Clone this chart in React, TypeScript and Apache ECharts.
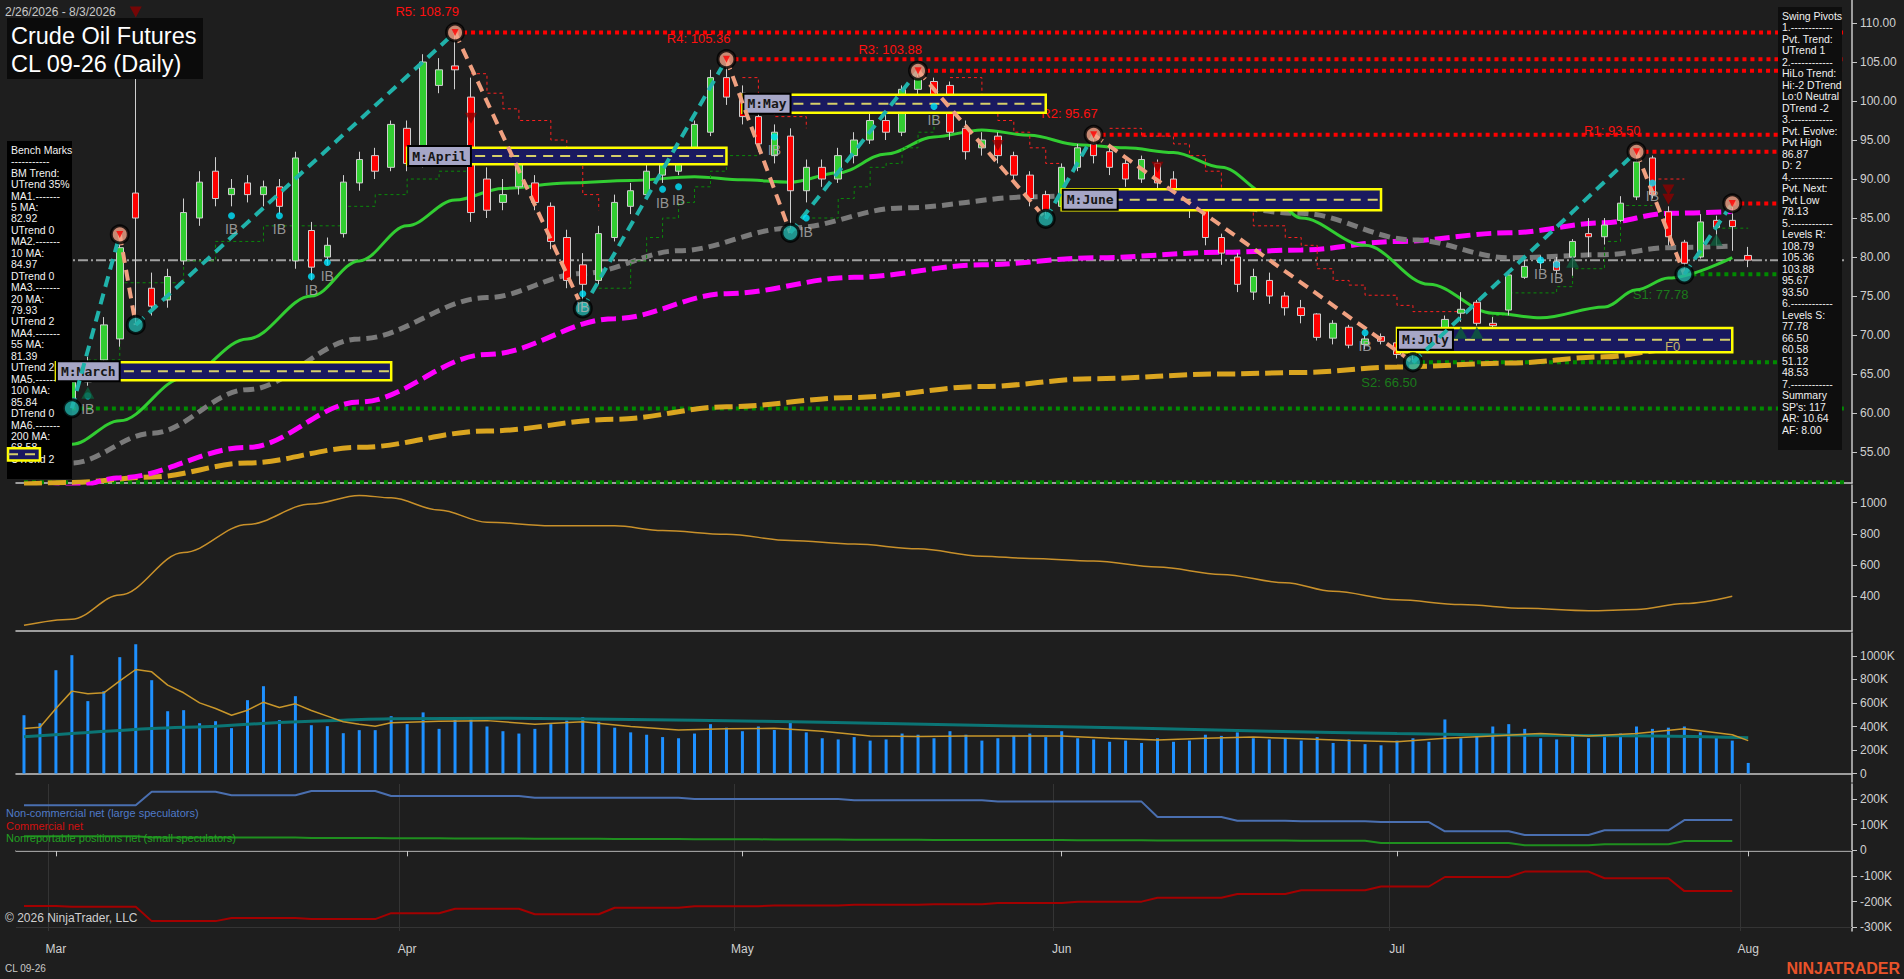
import React, { useEffect, useRef } from "react";
import * as echarts from "echarts";

const W = 1904;
const H = 979;
const FF = "'Liberation Sans', Arial, sans-serif";
const N_CAT = 115;
const categories = Array.from({ length: N_CAT }, (_, i) => String(i));
const monthTickIdx = [2, 24, 45, 65, 86, 108];
const monthTickLabel = ["Mar", "Apr", "May", "Jun", "Jul", "Aug"];
const priceTicks = [55, 60, 65, 70, 75, 80, 85, 90, 95, 100, 105, 110];
const oscTicks = [400, 600, 800, 1000];
const volTicks = [0, 200000, 400000, 600000, 800000, 1000000];
const cotTicks = [-300000, -200000, -100000, 0, 100000, 200000];

// [open, close, low, high]
const ohlc = [
  [64.0, 63.2, 62.0, 65.5], [63.2, 62.5, 61.5, 64.3], [62.5, 61.8, 61.0, 63.5], [61.8, 64.0, 60.6, 64.8],
  [64.0, 66.5, 63.5, 67.2], [66.8, 71.3, 65.8, 72.3], [69.5, 81.2, 68.5, 82.9], [88.2, 85.0, 71.3, 110.5],
  [76.0, 73.7, 72.5, 78.0], [74.5, 77.5, 73.5, 78.5], [79.5, 85.7, 79.0, 87.5], [85.0, 89.6, 84.0, 91.0],
  [91.0, 87.5, 86.5, 92.8], [88.0, 88.8, 86.5, 90.0], [89.5, 88.0, 87.0, 90.5], [88.0, 89.0, 86.5, 89.8],
  [89.0, 86.5, 85.5, 90.0], [79.5, 92.7, 78.5, 93.5], [83.4, 78.7, 77.0, 84.5], [80.0, 81.5, 79.0, 82.5],
  [83.0, 89.6, 82.5, 90.5], [89.5, 92.5, 88.5, 93.5], [93.0, 91.0, 90.0, 94.0], [91.5, 97.0, 91.0, 97.5],
  [96.5, 92.0, 91.0, 97.5], [92.0, 105.0, 91.5, 106.0], [102.0, 104.0, 101.0, 105.5], [104.5, 104.0, 101.5, 108.79],
  [100.5, 85.7, 84.5, 103.0], [90.0, 86.0, 85.0, 91.5], [87.0, 88.0, 86.0, 90.0], [89.0, 92.0, 88.0, 93.0],
  [89.5, 87.0, 86.0, 90.5], [86.5, 82.0, 81.0, 87.0], [82.5, 77.0, 76.0, 83.5], [79.0, 76.5, 73.4, 80.5],
  [77.0, 83.0, 76.5, 84.0], [82.5, 87.0, 82.0, 88.0], [86.5, 88.5, 85.5, 89.5], [88.0, 91.0, 87.5, 92.0],
  [90.5, 92.0, 89.5, 93.0], [91.0, 93.5, 90.5, 94.0], [93.0, 97.0, 92.5, 97.5], [96.0, 103.0, 95.5, 104.0],
  [103.0, 100.5, 99.5, 105.36], [101.0, 98.0, 97.0, 102.0], [98.0, 94.5, 93.5, 99.0], [93.0, 96.0, 92.0, 97.0],
  [95.5, 88.5, 83.1, 96.5], [88.5, 91.5, 87.0, 92.5], [91.5, 90.0, 89.0, 92.5], [90.0, 93.0, 89.5, 94.0],
  [93.0, 95.0, 92.0, 96.0], [95.0, 97.5, 94.5, 98.5], [97.5, 96.0, 95.0, 98.5], [96.0, 101.5, 95.5, 102.0],
  [101.5, 103.0, 100.5, 103.88], [102.5, 100.5, 99.5, 103.0], [102.0, 96.0, 95.0, 102.5], [96.5, 93.5, 92.5, 97.5],
  [94.0, 95.0, 93.0, 96.0], [95.5, 93.0, 92.0, 96.0], [93.0, 90.5, 89.5, 93.5], [90.5, 87.5, 86.5, 91.0],
  [88.0, 86.0, 84.9, 88.5], [86.5, 91.5, 86.0, 92.0], [91.5, 94.0, 91.0, 94.5], [94.5, 93.0, 92.0, 95.67],
  [93.5, 91.5, 90.5, 94.5], [92.0, 90.0, 89.0, 92.5], [90.0, 92.5, 89.5, 93.0], [92.0, 89.5, 88.5, 92.5],
  [90.0, 88.0, 87.0, 91.0], [88.0, 86.0, 85.0, 88.5], [86.0, 82.5, 81.5, 87.0], [82.5, 80.5, 79.0, 83.0],
  [80.0, 76.5, 75.5, 80.5], [75.5, 77.5, 74.5, 78.5], [77.0, 75.0, 74.0, 78.0], [75.0, 73.5, 72.5, 75.5],
  [73.5, 72.5, 71.5, 74.5], [72.7, 69.7, 69.3, 72.8], [69.6, 71.5, 68.8, 71.9], [71.0, 68.7, 68.3, 71.3],
  [68.8, 69.5, 68.2, 70.0], [69.8, 69.2, 68.8, 70.2], [69.0, 67.5, 67.0, 69.5], [67.5, 68.5, 66.5, 69.0],
  [68.5, 70.0, 68.0, 70.5], [70.0, 72.0, 69.5, 72.5], [72.8, 73.3, 71.7, 75.5], [74.2, 71.5, 71.2, 74.5],
  [71.5, 71.2, 70.6, 72.3], [73.2, 77.7, 72.5, 78.0], [77.4, 78.8, 77.2, 80.0], [79.3, 79.6, 78.5, 80.2],
  [79.4, 78.3, 77.8, 80.0], [80.0, 82.0, 77.6, 82.3], [83.0, 82.6, 80.0, 85.0], [82.6, 84.1, 81.6, 85.0],
  [84.7, 86.9, 84.5, 87.8], [87.7, 92.2, 87.3, 93.5], [92.7, 88.0, 87.5, 93.0], [85.8, 82.6, 81.5, 86.5],
  [81.9, 79.2, 77.78, 82.2], [80.0, 84.5, 79.8, 85.5], [84.7, 83.8, 81.5, 85.3], [84.7, 83.9, 80.8, 86.87],
  [80.2, 79.6, 78.7, 81.3],
];

// volume in thousands
const volumeK = [
  496, 428, 879, 1007, 616, 700, 990, 1100, 794, 530, 539, 428, 445, 386, 624, 743, 454, 658, 411, 403, 343, 369, 369, 488,
  420, 520, 380, 460, 470, 400, 360, 340, 380, 420,
  450, 480, 440, 390, 350, 330, 310, 300, 340, 420,
  390, 360, 400, 370, 430, 350, 300, 290, 310, 280,
  290, 340, 330, 300, 360, 330, 280, 300, 320, 340,
  310, 360, 300, 290, 270, 280, 260, 300, 270, 280,
  330, 320, 350, 300, 290, 300, 280, 310, 260, 290,
  250, 240, 280, 300, 270, 460, 300, 330, 400, 420,
  380, 300, 290, 330, 300, 310, 340, 400, 380, 390,
  400, 350, 310, 280, 90,
];
const volAvgFastK = [
  [0, 383], [1, 394], [2, 553], [3, 701], [4, 678], [5, 687], [6, 789], [7, 885], [8, 865], [9, 752], [10, 687], [11, 601],
  [12, 553], [13, 496], [14, 539], [15, 607], [16, 562], [17, 593], [18, 536], [19, 488], [20, 440], [21, 420], [22, 403], [23, 431],
  [26, 445], [29, 450], [32, 420], [35, 440], [38, 400], [41, 370], [44, 380], [47, 385], [50, 360], [53, 320], [56, 315],
  [59, 320], [62, 320], [65, 320], [68, 300], [71, 285], [74, 300], [77, 310], [80, 295], [83, 280], [86, 270], [89, 300],
  [92, 320], [95, 340], [98, 320], [101, 340], [104, 380], [107, 330], [108, 280],
];
const volAvgSlowK = [
  [0, 312], [3, 340], [8, 383], [12, 403], [16, 434], [20, 454], [23, 465], [30, 470], [38, 460], [46, 445], [54, 425],
  [62, 405], [70, 385], [78, 360], [86, 340], [94, 325], [102, 320], [108, 305],
];

// oscillator panel (orange line)
const oscLine = [
  [0, 213], [3, 252], [6, 408], [10, 681], [14, 860], [18, 992], [21, 1047], [23, 1031], [26, 953], [29, 875], [33, 852],
  [37, 852], [40, 821], [44, 797], [48, 758], [52, 735], [56, 704], [60, 657], [63, 642], [67, 626], [71, 587], [75, 540],
  [79, 486], [82, 431], [86, 377], [90, 346], [94, 322], [98, 307], [101, 314], [104, 353], [107, 400],
];

// moving averages
const ma20 = [
  [0, 55.2], [3, 56.0], [6, 59.0], [10, 64.5], [14, 69.5], [18, 75.0], [21, 79.5], [24, 84.0], [27, 87.3], [30, 88.8],
  [34, 89.5], [38, 89.8], [42, 90.3], [45, 89.9], [48, 89.6], [51, 90.8], [54, 93.2], [57, 95.4], [60, 96.3], [63, 95.6],
  [66, 94.4], [69, 94.0], [72, 93.4], [75, 91.5], [78, 88.0], [80, 85.0], [84, 81.5], [88, 76.5], [92, 72.8], [95, 72.2],
  [99, 73.6], [101, 75.8], [103, 77.3], [107, 79.93],
];
const ma55 = [
  [0, 52.2], [3, 53.6], [8, 57.4], [14, 63.0], [21, 69.5], [29, 74.8], [35, 77.9], [41, 80.8], [48, 83.7], [55, 86.3],
  [63, 87.7], [67, 88.0], [72, 87.3], [80, 85.6], [87, 82.2], [93, 79.9], [99, 80.3], [103, 81.2], [107, 81.39],
];
const ma100 = [
  [0, 49.8], [3, 50.5], [6, 51.7], [14, 55.6], [21, 61.4], [29, 67.5], [37, 72.1], [44, 75.3], [52, 77.4], [60, 79.0],
  [67, 79.9], [75, 80.6], [80, 80.9], [86, 82.0], [93, 83.1], [99, 84.4], [103, 85.6], [107, 85.84],
];
const ma200 = [
  [0, 50.9], [3, 51.1], [8, 51.8], [14, 53.6], [21, 55.6], [29, 57.7], [37, 59.2], [44, 60.8], [52, 62.0], [60, 63.4],
  [67, 64.4], [75, 65.0], [80, 65.2], [86, 65.9], [93, 66.4], [99, 67.2], [103, 68.1], [107, 68.58],
];

// swing pivots
const pivotIdx = [3, 6, 7, 27, 35, 44, 48, 56, 64, 67, 87, 101, 104, 107];
const pivotPrice = [60.6, 82.9, 71.3, 108.79, 73.4, 105.36, 83.1, 103.88, 84.9, 95.67, 66.5, 93.5, 77.78, 86.87];
const pivotKind = ["L", "H", "L", "H", "L", "H", "L", "H", "L", "H", "L", "H", "L", "H"];

// horizontal levels
const levelFrom = [27, 44, 56, 67, 101, 107, 104, 87, 3, 0, 0];
const levelTo = [114, 114, 114, 114, 114, 110, 114, 114, 114, 114, 114];
const levelValue = [108.79, 105.36, 103.88, 95.67, 93.5, 86.87, 77.78, 66.5, 60.58, 51.12, 79.6];
const levelKind = ["R", "R", "R", "R", "R", "R", "S", "S", "S", "S", "C"];
const levelLabel = ["R5: 108.79", "R4: 105.36", "R3: 103.88", "R2: 95.67", "R1: 93.50", "", "S1: 77.78", "S2: 66.50", "", "", ""];

// monthly range boxes
const boxStart = [-1, 2, 24, 45, 65, 86];
const boxEnd = [1, 23, 44, 64, 85, 107];
const boxTop = [55.5, 66.5, 94.0, 100.8, 88.7, 70.9];
const boxBottom = [53.9, 64.2, 91.9, 98.5, 86.0, 67.8];
const boxMid = [54.7, 65.35, 92.95, 99.65, 87.35, 69.4];
const boxLabel = ["", "M:March", "M:April", "M:May", "M:June", "M:July"];

// trailing step lines
const redTrail = [
  [[28, 103.5], [29, 101.0], [30, 99.0], [31, 97.5], [33, 95.0], [34, 92.0], [35, 88.0], [36, 86.0]],
  [[45, 103.0], [46, 100.5], [47, 98.0], [49, 96.5]],
  [[58, 103.0], [60, 99.0], [61, 97.5], [62, 96.0], [63, 94.0], [64, 92.0], [65, 92.0]],
  [[68, 96.5], [70, 95.5], [72, 94.5], [73, 93.0], [74, 91.0], [75, 88.5], [76, 86.0], [77, 84.0], [79, 82.5], [80, 81.5],
   [81, 78.5], [82, 77.0], [83, 76.4], [84, 75.1], [86, 73.8], [87, 73.0], [90, 73.0]],
  [[102, 90.0], [104, 90.0]],
];
const greenTrail = [
  [[4, 66.8], [6, 76.7], [8, 76.7], [10, 79.5], [12, 82.0], [15, 84.0], [17, 84.0], [20, 86.5], [22, 88.0], [24, 90.0], [26, 91.0], [28, 91.0]],
  [[36, 76.0], [37, 76.0], [38, 79.5], [39, 82.5], [40, 85.0], [41, 87.0], [42, 89.0], [43, 91.0], [44, 93.0], [46, 93.0]],
  [[49, 85.0], [51, 87.5], [52, 89.0], [53, 91.5], [54, 92.0], [55, 94.0], [56, 96.0], [57, 99.0], [59, 99.0]],
  [[90, 70.1], [92, 72.5], [93, 75.4], [96, 76.2], [97, 78.5], [99, 82.0], [100, 86.6], [102, 86.6]],
  [[106, 83.7], [108, 83.7]],
];

// inside-bar markers and signal triangles
const ibIdx = [4, 13, 16, 18, 19, 35, 40, 41, 47, 49, 57, 84, 95, 96, 102];
const ibDot = [62.2, 85.3, 85.3, 77.5, 79.3, 75.3, 88.7, 89.0, 95.4, 85.0, 99.3, 70.3, 79.6, 79.0, 89.5];
const downTriIdx = [7, 28, 61, 71, 103, 103];
const downTriPrice = [111.4, 97.8, 94.3, 91.5, 88.6, 87.4];
const upTriIdx = [4, 90, 91, 97, 106];
const upTriPrice = [62.6, 70.3, 70.3, 79.4, 82.2];

// COT weekly values (thousands), weeks start on the listed bar index
const cotWeekStart = [0, 3, 8, 13, 18, 23, 27, 32, 37, 42, 47, 52, 57, 61, 66, 71, 76, 80, 85, 89, 94, 99, 104];
const cotLastIdx = 107;
const cotNonCommK = [176, 176, 228, 215, 231, 212, 212, 205, 205, 200, 200, 195, 195, 190, 190, 130, 115, 113, 110, 74, 60, 78, 118];
const cotCommK = [-217, -220, -276, -264, -268, -245, -228, -249, -224, -218, -215, -212, -210, -205, -200, -185, -170, -156, -141, -104, -83, -109, -159];
const cotSmallK = [55, 55, 50, 50, 48, 47, 46, 45, 44, 43, 42, 41, 40, 40, 39, 38, 38, 37, 29, 29, 20, 24, 36];

const benchLines = [
  "Bench Marks", "-----------", "BM Trend:", "UTrend 35%", "MA1.-------", "5 MA:", "82.92", "UTrend 0",
  "MA2.-------", "10 MA:", "84.97", "DTrend 0", "MA3.-------", "20 MA:", "79.93", "UTrend 2", "MA4.-------",
  "55 MA:", "81.39", "UTrend 2", "MA5.-------", "100 MA:", "85.84", "DTrend 0", "MA6.-------", "200 MA:", "68.58", "UTrend 2",
];
const swingLines = [
  "Swing Pivots", "1.------------", "Pvt. Trend:", "UTrend 1", "2.------------", "HiLo Trend:", "Hi:-2 DTrend",
  "Lo:0 Neutral", "DTrend -2", "3.------------", "Pvt. Evolve:", "Pvt High", "86.87", "D: 2", "4.------------",
  "Pvt. Next:", "Pvt Low", "78.13", "5.------------", "Levels R:", "108.79", "105.36", "103.88", "95.67", "93.50",
  "6.------------", "Levels S:", "77.78", "66.50", "60.58", "51.12", "48.53", "7.------------", "Summary",
  "SP's: 117", "AR: 10.64", "AF: 8.00",
];

function expandWeekly(weekly: number[]) {
  const out: number[][] = [];
  for (let w = 0; w < cotWeekStart.length; w++) {
    const s = cotWeekStart[w];
    const e = w + 1 < cotWeekStart.length ? cotWeekStart[w + 1] - 1 : cotLastIdx;
    for (let i = s; i <= e; i++) out.push([i, weekly[w] * 1000]);
  }
  return out;
}

const kFmt = (v: number) => (v === 0 ? "0" : `${Math.round(v / 1000)}K`);

function yAxisCommon(ticks: number[], fmt: (v: number) => string) {
  return {
    type: "value",
    position: "right",
    axisLine: { show: true, lineStyle: { color: "#c8c8c8", width: 1.5 } },
    axisTick: { show: true, customValues: ticks, length: 5, lineStyle: { color: "#c8c8c8" } },
    axisLabel: { customValues: ticks, formatter: fmt, color: "#d0d0d0", fontSize: 12, fontFamily: FF, margin: 8 },
    splitLine: { show: false },
  };
}

function buildOption() {
  const grids = [
    { left: 16, right: 52, top: 0, height: 483 },
    { left: 16, right: 52, top: 485, height: 146 },
    { left: 16, right: 52, top: 633, height: 149 },
    { left: 16, right: 52, top: 784, height: 147 },
  ];
  const isMonth = (i: number) => monthTickIdx.indexOf(i) >= 0;
  const xAxis = grids.map((_, gi) => ({
    type: "category",
    gridIndex: gi,
    data: categories,
    boundaryGap: true,
    axisLine: { show: true, lineStyle: { color: "#c8c8c8", width: 1.5 } },
    axisTick: { show: gi === 3, alignWithLabel: true, interval: isMonth, length: 6, lineStyle: { color: "#c8c8c8" } },
    axisLabel: {
      show: gi === 3,
      interval: isMonth,
      formatter: (v: string) => monthTickLabel[monthTickIdx.indexOf(Number(v))] || "",
      color: "#d0d0d0",
      fontSize: 12,
      fontFamily: FF,
      margin: 12,
    },
    splitLine: { show: gi === 3, interval: isMonth, lineStyle: { color: "#343434", width: 1 } },
  }));
  const yAxis = [
    { gridIndex: 0, min: 51.03, max: 112.95, ...yAxisCommon(priceTicks, (v) => v.toFixed(2)) },
    { gridIndex: 1, min: 176.7, max: 1113.6, ...yAxisCommon(oscTicks, (v) => String(v)) },
    { gridIndex: 2, min: -72300, max: 1195700, ...yAxisCommon(volTicks, kFmt) },
    { gridIndex: 3, min: -314500, max: 258600, ...yAxisCommon(cotTicks, kFmt) },
  ];
  const P = { xAxisIndex: 0, yAxisIndex: 0 };

  const maLine = (data: number[][], color: string, width: number, type: any, z = 2) => ({
    type: "line", ...P, data, smooth: 0.35, smoothMonotone: "x", symbol: "none", silent: true,
    lineStyle: { color, width, type }, z,
  });

  const trail = (segs: number[][][], color: string) =>
    segs.map((seg) => ({
      type: "line", ...P, data: seg, step: "end", symbol: "none", silent: true,
      lineStyle: { color, width: 1, type: [3, 3] }, z: 2,
    }));

  const legs: number[][] = [];
  for (let k = 0; k + 1 < pivotIdx.length; k++) {
    legs.push([pivotIdx[k], pivotPrice[k], pivotIdx[k + 1], pivotPrice[k + 1], pivotKind[k] === "L" ? 1 : 0]);
  }

  const series: any[] = [
    maLine(ma200, "#daa520", 5, [18, 6]),
    maLine(ma100, "#ff00ff", 5, [15, 6]),
    maLine(ma55, "#7a7a7a", 5, [11, 6]),
    maLine(ma20, "#32cd32", 3, "solid"),
    ...trail(redTrail, "#ff2020"),
    ...trail(greenTrail, "#0a8a0a"),
    {
      type: "custom", ...P, z: 2, silent: true, clip: false,
      data: levelFrom.map((f, i) => [f, levelValue[i], levelTo[i]]),
      renderItem: (params: any, api: any) => {
        const i = params.dataIndex;
        const a = api.coord([api.value(0), api.value(1)]);
        const b = api.coord([api.value(2), api.value(1)]);
        const kind = levelKind[i];
        const color = kind === "R" ? "#ff0000" : kind === "S" ? "#008a00" : "#a0a0a0";
        const children: any[] = [
          {
            type: "line",
            shape: { x1: a[0], y1: a[1], x2: b[0], y2: b[1] },
            style: { stroke: color, lineWidth: kind === "C" ? 2 : 4, lineDash: kind === "C" ? [10, 3, 2, 3] : [4, 4] },
          },
        ];
        if (levelLabel[i]) {
          children.push({
            type: "text",
            x: a[0] + 4,
            y: kind === "R" ? a[1] - 21 : a[1] + 20,
            style: {
              text: levelLabel[i], fill: kind === "R" ? "#ff1010" : "#1b7a1b",
              font: `13px ${FF}`, align: "right", verticalAlign: "middle",
            },
          });
        }
        return { type: "group", children };
      },
    },
    {
      type: "candlestick", ...P, data: ohlc, barWidth: 7, z: 3, silent: true,
      itemStyle: { color: "#32cd32", color0: "#ff0000", borderColor: "#cfcfcf", borderColor0: "#cfcfcf", borderWidth: 1 },
    },
    {
      type: "custom", ...P, z: 6, silent: true, clip: false,
      data: boxStart.map((s, i) => [s, boxEnd[i], boxTop[i], boxBottom[i], boxMid[i]]),
      renderItem: (params: any, api: any) => {
        const i = params.dataIndex;
        const step = api.size([1, 0])[0];
        const s = api.value(0);
        const e = api.value(1);
        const base = api.coord([0, api.value(2)]);
        const x1 = base[0] + s * step;
        const x2 = base[0] + e * step;
        const yTop = base[1];
        const yBot = api.coord([0, api.value(3)])[1];
        const yMid = api.coord([0, api.value(4)])[1];
        const children: any[] = [
          { type: "rect", shape: { x: x1, y: yTop, width: x2 - x1, height: yBot - yTop }, style: { fill: "#191960", stroke: "#ffff00", lineWidth: 2.5 } },
          { type: "line", shape: { x1: x1, y1: yMid, x2: x2, y2: yMid }, style: { stroke: "#d6cf6a", lineWidth: 2, lineDash: [10, 7] } },
        ];
        if (boxLabel[i]) {
          children.push({
            type: "text", x: x1 + 2, y: yMid,
            style: {
              text: boxLabel[i], fill: "#161616", font: `bold 13px 'DejaVu Sans Mono', monospace`,
              backgroundColor: "#a6a6c6", borderColor: "#000000", borderWidth: 2, padding: [3, 3, 2, 3],
              verticalAlign: "middle",
            },
          });
        }
        return { type: "group", children };
      },
    },
    {
      type: "custom", ...P, z: 7, silent: true, clip: false,
      data: legs,
      renderItem: (params: any, api: any) => {
        const a = api.coord([api.value(0), api.value(1)]);
        const b = api.coord([api.value(2), api.value(3)]);
        const up = api.value(4) === 1;
        return {
          type: "line",
          shape: { x1: a[0], y1: a[1], x2: b[0], y2: b[1] },
          style: { stroke: up ? "#20b2aa" : "#f0a080", lineWidth: 4, lineDash: [11, 7] },
        };
      },
    },
    {
      type: "scatter", ...P, z: 8, silent: true, symbol: "circle", symbolSize: 17,
      data: pivotIdx.map((x, i) => (pivotKind[i] === "H" ? [x, pivotPrice[i]] : null)).filter(Boolean),
      itemStyle: { color: "#f2a488", borderColor: "#000000", borderWidth: 3 },
    },
    {
      type: "scatter", ...P, z: 9, silent: true, symbol: "triangle", symbolRotate: 180, symbolSize: 7,
      data: pivotIdx.map((x, i) => (pivotKind[i] === "H" ? [x, pivotPrice[i]] : null)).filter(Boolean),
      itemStyle: { color: "#ff0000" },
    },
    {
      type: "scatter", ...P, z: 8, silent: true, symbol: "circle", symbolSize: 17,
      data: pivotIdx.map((x, i) => (pivotKind[i] === "L" ? [x, pivotPrice[i]] : null)).filter(Boolean),
      itemStyle: { color: "#20b2aa", borderColor: "#000000", borderWidth: 3 },
    },
    {
      type: "scatter", ...P, z: 8, silent: true, symbol: "circle", symbolSize: 7,
      data: ibIdx.map((x, i) => [x, ibDot[i]]),
      itemStyle: { color: "#00e5ff" },
      label: { show: true, formatter: "IB", position: "bottom", distance: 3, color: "#b4b4b4", fontSize: 14, fontFamily: FF },
    },
    {
      type: "scatter", ...P, z: 8, silent: true, symbol: "triangle", symbolRotate: 180, symbolSize: [12, 11],
      data: downTriIdx.map((x, i) => [x, downTriPrice[i]]),
      itemStyle: { color: "#8b0000" },
    },
    {
      type: "scatter", ...P, z: 8, silent: true, symbol: "triangle", symbolSize: [13, 12],
      data: upTriIdx.map((x, i) => [x, upTriPrice[i]]),
      itemStyle: { color: "#0d5c3c" },
    },
    // oscillator
    {
      type: "line", xAxisIndex: 1, yAxisIndex: 1, data: oscLine, smooth: 0.35, smoothMonotone: "x", symbol: "none",
      lineStyle: { color: "#c8902a", width: 1.5 }, silent: true,
    },
    // volume
    {
      type: "bar", xAxisIndex: 2, yAxisIndex: 2, data: volumeK.map((v) => v * 1000), barWidth: 3,
      itemStyle: { color: "#1e90ff" }, silent: true,
    },
    {
      type: "line", xAxisIndex: 2, yAxisIndex: 2, data: volAvgSlowK.map(([i, v]) => [i, v * 1000]), smooth: 0.3,
      symbol: "none", lineStyle: { color: "#0b7575", width: 3 }, silent: true, z: 3,
    },
    {
      type: "line", xAxisIndex: 2, yAxisIndex: 2, data: volAvgFastK.map(([i, v]) => [i, v * 1000]),
      symbol: "none", lineStyle: { color: "#c8962a", width: 1.5 }, silent: true, z: 4,
    },
    // COT
    {
      type: "line", xAxisIndex: 3, yAxisIndex: 3, data: expandWeekly(cotNonCommK), symbol: "none",
      lineStyle: { color: "#4a6fb0", width: 2 }, silent: true,
      markLine: {
        silent: true, symbol: "none", label: { show: false },
        lineStyle: { color: "#343434", width: 1, type: "solid" },
        data: [{ yAxis: 0 }, { yAxis: -300000 }],
      },
    },
    {
      type: "line", xAxisIndex: 3, yAxisIndex: 3, data: expandWeekly(cotSmallK), symbol: "none",
      lineStyle: { color: "#1f8f1f", width: 2 }, silent: true,
    },
    {
      type: "line", xAxisIndex: 3, yAxisIndex: 3, data: expandWeekly(cotCommK), symbol: "none",
      lineStyle: { color: "#a30000", width: 2 }, silent: true,
    },
  ];

  const txt = (x: number, y: number, text: string, fill: string, font: string, z = 20, extra: any = {}) => ({
    type: "text", x, y, z, silent: true,
    style: { text, fill, font, verticalAlign: "middle", ...extra },
  });

  const graphic = [
    { type: "rect", z: 4, silent: true, shape: { x: 7, y: 141, width: 65, height: 338 }, style: { fill: "#000000" } },
    {
      type: "text", x: 11, y: 144, z: 5, silent: true,
      style: { text: benchLines.join("\n"), fill: "#f2f2f2", font: `10.5px ${FF}`, lineHeight: 11.45, verticalAlign: "top" },
    },
    { type: "rect", z: 20, silent: true, shape: { x: 1778, y: 7, width: 64, height: 443 }, style: { fill: "#0e0e0e" } },
    {
      type: "text", x: 1782, y: 10, z: 21, silent: true,
      style: { text: swingLines.join("\n"), fill: "#f0f0f0", font: `10.5px ${FF}`, lineHeight: 11.5, verticalAlign: "top" },
    },
    { type: "rect", z: 20, silent: true, shape: { x: 7, y: 18, width: 196, height: 61 }, style: { fill: "#0b0b0b" } },
    txt(11, 36, "Crude Oil Futures", "#ffffff", `23.5px ${FF}`, 21),
    txt(11, 64, "CL 09-26 (Daily)", "#ffffff", `23.5px ${FF}`, 21),
    txt(5, 12, "2/26/2026 - 8/3/2026", "#c8c8c8", `12px ${FF}`),
    txt(1665, 346, "F0", "#c8b464", `13px ${FF}`, 9),
    txt(6, 813, "Non-commercial net (large speculators)", "#4f7ac8", `11px ${FF}`),
    txt(6, 826, "Commercial net", "#d01010", `11px ${FF}`),
    txt(6, 838, "Nonreportable positions net (small speculators)", "#22a022", `11px ${FF}`),
    txt(5, 918, "\u00a9 2026 NinjaTrader, LLC", "#d0d0d0", `12px ${FF}`),
    txt(5, 968, "CL 09-26", "#c8c8c8", `10px ${FF}`),
    txt(1900, 968, "NINJATRADER", "#e8532a", `bold 16px ${FF}`, 20, { align: "right" }),
  ];

  return {
    animation: false,
    backgroundColor: "#1e1e1e",
    grid: grids,
    xAxis,
    yAxis,
    series,
    graphic: { elements: graphic },
  };
}

export default function App() {
  const ref = useRef<HTMLDivElement>(null);
  useEffect(() => {
    document.body.style.margin = "0";
    document.body.style.background = "#1e1e1e";
    const chart = echarts.init(ref.current as HTMLDivElement, null, { renderer: "svg", width: W, height: H });
    chart.setOption(buildOption() as any);
    return () => chart.dispose();
  }, []);
  return <div ref={ref} style={{ position: "fixed", left: 0, top: 0, width: W, height: H, background: "#1e1e1e" }} />;
}
